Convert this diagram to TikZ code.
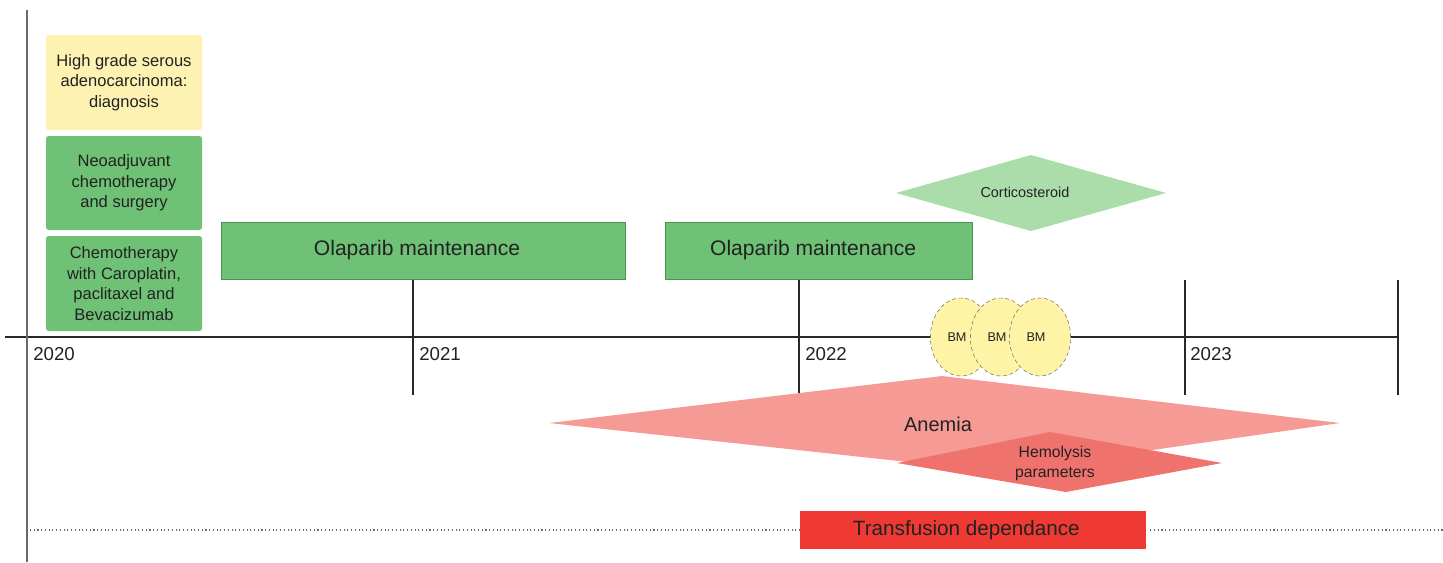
\documentclass[tikz,border=0pt]{standalone}
\usepackage{fontspec}
\setmainfont{Liberation Sans}
\usepackage{tikz}
\usetikzlibrary{shapes.geometric}

\definecolor{diagyellow}{RGB}{253,242,178}
\definecolor{treatgreen}{RGB}{110,193,117}
\definecolor{treatedge}{RGB}{70,150,78}
\definecolor{cortgreen}{RGB}{171,221,171}
\definecolor{bmyellow}{RGB}{255,243,166}
\definecolor{anemiapink}{RGB}{246,154,149}
\definecolor{hemored}{RGB}{240,114,108}
\definecolor{transred}{RGB}{238,58,51}
\definecolor{axisgray}{RGB}{40,40,40}
\definecolor{labelgray}{RGB}{34,34,34}

\tikzset{
  every node/.style={text=labelgray},
  earlybox/.style={rounded corners=2pt, fill=treatgreen, inner sep=0.75pt, align=center,
    minimum width=117pt, font=\fontsize{12.4}{15.5}\selectfont},
  olabox/.style={draw=treatedge, line width=0.6pt, fill=treatgreen, inner sep=0.75pt,
    minimum width=#1, minimum height=42.75pt, font=\fontsize{15.8}{17}\selectfont},
  bmnode/.style={ellipse, draw=axisgray!80, densely dashed, line width=0.3pt, fill=bmyellow,
    minimum width=46pt, minimum height=58.5pt, inner sep=0pt, font=\fontsize{9.5}{10}\selectfont},
  yearlab/.style={anchor=north west, inner sep=0.75pt, font=\fontsize{14}{15}\selectfont},
  tick/.style={draw=axisgray, line width=1.1pt}
}

\begin{document}
\begin{tikzpicture}[x=0.75pt,y=0.75pt,yscale=-1,xscale=1]
        \path[use as bounding box] (0,0) rectangle (1443,562);

        %Straight Lines [id:time_axis]
        \draw [tick, line width=1.8pt]   (5,337) -- (1398,337) ;
        %Straight Lines [id:left_axis]
        \draw [axisgray!70, line width=1.3pt]   (27,10) -- (27,562) ;
        %Straight Lines [id:ticks]
        \draw [tick]   (413,280) -- (413,395) ;
        \draw [tick]   (799,280) -- (799,393) ;
        \draw [tick]   (1185,280) -- (1185,395) ;
        \draw [tick]   (1398,280) -- (1398,395) ;

        % Text Node
        \draw (32,346) node [yearlab] (y2020) {2020};
        % Text Node
        \draw (418,346) node [yearlab] (y2021) {2021};
        % Text Node
        \draw (804,346) node [yearlab] (y2022) {2022};
        % Text Node
        \draw (1189,346) node [yearlab] (y2023) {2023};

        %Shape: Rectangle [id:diagnosis]
        \node [earlybox, fill=diagyellow, minimum height=71.25pt] (diag) at (124,82.5) {High grade serous\\adenocarcinoma:\\diagnosis};
        %Shape: Rectangle [id:neoadjuvant]
        \node [earlybox, minimum height=70.5pt] (neoadj) at (124,183) {Neoadjuvant\\chemotherapy\\and surgery};
        %Shape: Rectangle [id:chemo]
        \node [earlybox, minimum height=71.25pt] (chemo) at (124,283.5) {Chemotherapy\\with Caroplatin,\\paclitaxel and\\Bevacizumab};

        %Shape: Rectangle [id:olaparib_one]
        \node [olabox=303pt] (ola1) at (423,250.5) {\makebox[0pt]{\hspace{-9pt}Olaparib maintenance}};
        %Shape: Rectangle [id:olaparib_two]
        \node [olabox=230.25pt] (ola2) at (818.5,250.5) {\makebox[0pt]{\hspace{-8pt}Olaparib maintenance}};

        %Shape: Diamond [id:corticosteroid]
        \fill [cortgreen]   (896,193) -- (1031,155) -- (1166,193) -- (1031,231) -- cycle ;
        % Text Node
        \draw (1025,192) node [inner sep=0.75pt, font=\fontsize{10.8}{12}\selectfont] (cort) {Corticosteroid};

        %Shape: Diamond [id:anemia]
        \fill [anemiapink]   (549,423) -- (942,376) -- (1340,423) -- (1000,472) -- cycle ;
        % Text Node
        \draw (938,424) node [inner sep=0.75pt, font=\fontsize{15}{16}\selectfont] (anemia) {Anemia};

        %Shape: Diamond [id:hemolysis]
        \fill [hemored]   (897,463) -- (1050,432) -- (1222,463) -- (1066,492) -- cycle ;
        % Text Node
        \draw (1055,463) node [inner sep=0.75pt, align=center, font=\fontsize{11.8}{15}\selectfont] (hemo) {Hemolysis\\parameters};

        %Shape: Ellipse [id:bone_marrow]
        \node [bmnode] (bm1) at (961,337) {\makebox[0pt]{\hspace{-6pt}BM}};
        \node [bmnode] (bm2) at (1001,337) {\makebox[0pt]{\hspace{-6pt}BM}};
        \node [bmnode] (bm3) at (1040,337) {\makebox[0pt]{\hspace{-6pt}BM}};

        %Shape: Rectangle [id:transfusion]
        \node [fill=transred, minimum width=259.5pt, minimum height=28.5pt, inner sep=0.75pt,
          font=\fontsize{15.5}{16}\selectfont] (transf) at (973,530) {\makebox[0pt]{\hspace{-10pt}Transfusion dependance}};

        %Straight Lines [id:dotted_line]
        \coordinate (dotstart) at (30,530);
        \coordinate (dotend) at (1443,530);
        \draw [axisgray!70, dotted, line width=0.8pt]   (dotstart) -- (transf.west) ;
        \draw [axisgray!70, dotted, line width=0.8pt]   ([xshift=3pt]transf.east) -- (dotend) ;

\end{tikzpicture}
\end{document}
